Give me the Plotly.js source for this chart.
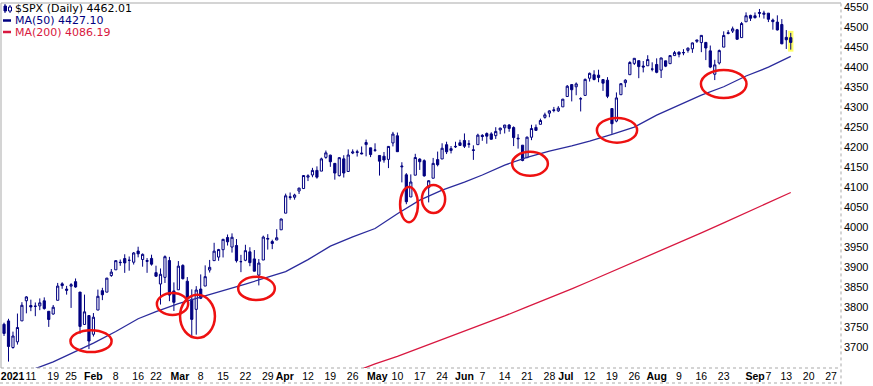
<!DOCTYPE html>
<html><head><meta charset="utf-8">
<script src="https://cdn.plot.ly/plotly-3.0.1.min.js"></script>
<style>html,body{margin:0;padding:0;background:#fff}#chart{width:873px;height:386px}</style>
</head><body><div id="chart"></div>
<script>
const dates = ['2020-12-31',
'2021-01-04','2021-01-05','2021-01-06','2021-01-07','2021-01-08','2021-01-11','2021-01-12','2021-01-13','2021-01-14','2021-01-15','2021-01-19','2021-01-20','2021-01-21','2021-01-22','2021-01-25','2021-01-26','2021-01-27','2021-01-28','2021-01-29',
'2021-02-01','2021-02-02','2021-02-03','2021-02-04','2021-02-05','2021-02-08','2021-02-09','2021-02-10','2021-02-11','2021-02-12','2021-02-16','2021-02-17','2021-02-18','2021-02-19','2021-02-22','2021-02-23','2021-02-24','2021-02-25','2021-02-26',
'2021-03-01','2021-03-02','2021-03-03','2021-03-04','2021-03-05','2021-03-08','2021-03-09','2021-03-10','2021-03-11','2021-03-12','2021-03-15','2021-03-16','2021-03-17','2021-03-18','2021-03-19','2021-03-22','2021-03-23','2021-03-24','2021-03-25','2021-03-26','2021-03-29','2021-03-30','2021-03-31',
'2021-04-01','2021-04-05','2021-04-06','2021-04-07','2021-04-08','2021-04-09','2021-04-12','2021-04-13','2021-04-14','2021-04-15','2021-04-16','2021-04-19','2021-04-20','2021-04-21','2021-04-22','2021-04-23','2021-04-26','2021-04-27','2021-04-28','2021-04-29','2021-04-30',
'2021-05-03','2021-05-04','2021-05-05','2021-05-06','2021-05-07','2021-05-10','2021-05-11','2021-05-12','2021-05-13','2021-05-14','2021-05-17','2021-05-18','2021-05-19','2021-05-20','2021-05-21','2021-05-24','2021-05-25','2021-05-26','2021-05-27','2021-05-28',
'2021-06-01','2021-06-02','2021-06-03','2021-06-04','2021-06-07','2021-06-08','2021-06-09','2021-06-10','2021-06-11','2021-06-14','2021-06-15','2021-06-16','2021-06-17','2021-06-18','2021-06-21','2021-06-22','2021-06-23','2021-06-24','2021-06-25','2021-06-28','2021-06-29','2021-06-30',
'2021-07-01','2021-07-02','2021-07-06','2021-07-07','2021-07-08','2021-07-09','2021-07-12','2021-07-13','2021-07-14','2021-07-15','2021-07-16','2021-07-19','2021-07-20','2021-07-21','2021-07-22','2021-07-23','2021-07-26','2021-07-27','2021-07-28','2021-07-29','2021-07-30',
'2021-08-02','2021-08-03','2021-08-04','2021-08-05','2021-08-06','2021-08-09','2021-08-10','2021-08-11','2021-08-12','2021-08-13','2021-08-16','2021-08-17','2021-08-18','2021-08-19','2021-08-20','2021-08-23','2021-08-24','2021-08-25','2021-08-26','2021-08-27','2021-08-30','2021-08-31',
'2021-09-01','2021-09-02','2021-09-03','2021-09-07','2021-09-08','2021-09-09','2021-09-10','2021-09-13','2021-09-14'];

const open = [3756.07,
3764.61,3698.02,3712.20,3764.71,3815.05,3803.14,3801.62,3802.23,3814.98,3788.73,3781.88,3816.22,3857.46,3844.24,3851.68,3862.96,3836.83,3755.75,3778.05,
3731.17,3791.84,3840.27,3836.66,3878.30,3892.59,3910.49,3920.78,3916.40,3911.65,3939.61,3918.50,3915.86,3921.16,3885.55,3857.07,3873.71,3915.80,3839.66,
3842.51,3903.64,3863.99,3818.53,3793.58,3844.39,3851.93,3891.99,3915.54,3924.52,3942.96,3973.59,3949.57,3953.50,3913.14,3916.48,3937.60,3919.93,3879.34,3917.12,3969.31,3963.34,3967.25,
3992.78,4034.44,4075.57,4074.29,4089.95,4096.11,4124.71,4130.10,4141.58,4139.76,4174.14,4179.80,4159.18,4128.42,4170.46,4138.78,4185.03,4188.25,4185.14,4206.14,4198.10,
4191.98,4179.04,4177.06,4169.14,4210.34,4228.29,4150.34,4130.55,4074.99,4129.58,4169.92,4165.94,4098.45,4121.97,4168.61,4170.16,4205.94,4191.59,4201.94,4210.77,
4216.52,4206.82,4191.43,4206.05,4229.34,4233.81,4232.99,4228.56,4242.90,4248.31,4255.28,4248.87,4220.37,4204.78,4173.40,4224.61,4249.27,4256.97,4274.45,4284.90,4293.21,4290.65,
4300.73,4326.60,4356.46,4351.01,4321.07,4329.38,4372.41,4381.07,4380.11,4369.02,4367.43,4296.40,4265.11,4331.13,4361.27,4381.20,4409.58,4416.38,4402.95,4403.59,4395.12,
4406.86,4392.74,4415.95,4408.86,4429.07,4437.77,4435.79,4442.18,4446.08,4464.84,4461.65,4462.12,4440.94,4382.44,4410.56,4450.29,4484.40,4490.45,4493.75,4474.10,4513.76,4529.75,
4528.80,4534.48,4532.42,4535.38,4518.09,4513.02,4506.92,4474.81,4474.00];

const high = [3760.20,
3769.99,3737.83,3783.04,3811.55,3826.69,3817.86,3810.78,3820.96,3823.60,3788.73,3804.53,3859.75,3861.45,3852.31,3859.23,3870.90,3836.83,3830.50,3778.05,
3784.32,3843.09,3847.51,3872.42,3894.56,3915.77,3918.35,3931.50,3925.99,3937.23,3950.43,3933.61,3921.98,3930.41,3902.92,3895.98,3928.65,3925.02,3861.08,
3914.50,3906.41,3874.47,3843.67,3851.69,3881.06,3903.76,3917.35,3960.27,3944.99,3970.08,3981.04,3983.87,3969.62,3930.12,3955.31,3949.13,3942.08,3919.54,3978.19,3981.83,3968.01,3994.41,
4020.63,4083.42,4086.23,4083.13,4098.19,4129.48,4131.76,4148.00,4151.69,4173.49,4191.31,4180.81,4159.18,4175.02,4179.57,4194.17,4194.19,4193.35,4201.53,4218.78,4198.10,
4209.39,4179.04,4187.72,4202.70,4238.04,4236.39,4162.04,4134.73,4131.58,4183.13,4171.92,4169.15,4116.93,4172.80,4188.72,4209.52,4213.42,4202.61,4213.38,4218.36,
4234.12,4217.37,4204.39,4233.45,4232.34,4236.74,4237.09,4249.74,4248.38,4255.59,4257.16,4251.89,4232.29,4204.78,4226.24,4255.84,4256.60,4271.28,4286.12,4292.14,4300.52,4302.43,
4320.66,4355.43,4356.46,4361.88,4324.81,4371.60,4386.68,4392.37,4393.68,4369.02,4375.09,4296.40,4336.84,4359.70,4369.87,4415.18,4422.73,4416.38,4415.47,4429.97,4412.25,
4422.18,4423.79,4416.17,4429.76,4440.82,4439.39,4445.21,4449.44,4461.77,4468.37,4480.26,4462.12,4454.32,4418.61,4444.35,4489.88,4492.81,4501.71,4495.90,4513.33,4537.36,4531.39,
4537.11,4545.85,4541.45,4535.38,4521.79,4529.90,4520.47,4492.99,4486.00];

const low = [3726.88,
3662.71,3695.07,3705.34,3764.71,3783.60,3789.02,3776.51,3791.50,3792.86,3749.62,3780.37,3816.22,3845.05,3830.41,3797.16,3847.78,3732.48,3755.75,3694.12,
3725.62,3791.84,3816.68,3836.66,3874.93,3892.59,3902.64,3884.94,3890.39,3905.78,3923.85,3900.43,3885.03,3903.07,3874.71,3805.59,3859.60,3814.04,3789.54,
3842.51,3868.57,3818.86,3723.34,3730.19,3819.25,3851.93,3885.73,3915.54,3915.21,3923.54,3953.44,3935.74,3910.86,3886.75,3914.16,3901.57,3888.62,3853.50,3917.12,3943.25,3944.35,3966.98,
3992.78,4034.44,4068.14,4068.31,4082.54,4095.51,4114.82,4124.43,4120.87,4139.76,4170.75,4150.47,4118.38,4126.35,4123.69,4138.78,4182.36,4176.22,4181.78,4176.81,4174.85,
4188.03,4128.59,4160.94,4147.33,4201.64,4188.13,4111.53,4056.88,4074.99,4129.58,4142.69,4125.99,4061.41,4121.97,4151.72,4170.16,4182.52,4184.11,4197.78,4203.57,
4197.59,4198.27,4167.93,4206.05,4215.66,4208.41,4218.74,4220.34,4232.25,4234.07,4238.35,4202.45,4196.05,4164.40,4173.40,4217.27,4241.43,4256.97,4271.16,4274.67,4287.04,4287.96,
4300.73,4326.60,4314.37,4329.79,4289.22,4329.38,4364.03,4366.92,4362.36,4340.70,4322.53,4233.13,4262.05,4331.13,4350.06,4381.20,4405.45,4372.51,4387.01,4403.59,4389.65,
4384.81,4373.00,4400.23,4408.86,4429.07,4424.74,4430.03,4436.42,4435.96,4460.82,4437.66,4417.83,4397.59,4367.73,4406.80,4450.29,4482.28,4485.66,4468.99,4474.10,4513.76,4515.80,
4522.02,4524.66,4521.65,4513.00,4493.95,4492.07,4457.66,4445.70,4444.00];

const close = [3733.27,
3700.65,3726.86,3748.14,3803.79,3824.68,3799.61,3801.19,3809.84,3795.54,3768.25,3798.91,3851.85,3853.07,3841.47,3855.36,3849.62,3750.77,3787.38,3714.24,
3773.86,3826.31,3830.17,3871.74,3886.83,3915.59,3911.23,3909.88,3916.38,3934.83,3932.59,3931.33,3913.97,3906.71,3876.50,3881.37,3925.43,3829.34,3811.15,
3901.82,3870.29,3819.72,3768.47,3841.94,3821.35,3875.44,3898.81,3939.34,3943.34,3968.94,3962.71,3974.12,3915.46,3913.10,3940.59,3910.52,3889.14,3909.52,3974.54,3971.09,3958.55,3972.89,
4019.87,4077.91,4073.94,4079.95,4097.17,4128.80,4127.99,4141.59,4124.66,4170.42,4185.47,4163.26,4134.94,4173.42,4134.98,4180.17,4187.62,4186.72,4183.18,4211.47,4181.17,
4192.66,4164.66,4167.59,4201.62,4232.60,4188.43,4152.10,4063.04,4112.50,4173.85,4163.29,4127.83,4115.68,4159.12,4155.86,4197.05,4188.13,4195.99,4200.88,4204.11,
4202.04,4208.12,4192.85,4229.89,4226.52,4227.26,4219.55,4239.18,4247.44,4255.15,4246.59,4223.70,4221.86,4166.45,4224.79,4246.44,4241.84,4266.49,4280.70,4290.61,4291.80,4297.50,
4319.94,4352.34,4343.54,4358.13,4320.82,4369.55,4384.63,4369.21,4374.30,4360.03,4327.16,4258.49,4323.06,4358.69,4367.48,4411.79,4422.30,4401.46,4400.64,4419.15,4395.26,
4387.16,4423.15,4402.66,4429.10,4436.52,4432.35,4436.75,4447.70,4460.83,4468.00,4479.71,4448.08,4400.27,4405.80,4441.67,4479.53,4486.23,4496.19,4470.00,4509.37,4528.79,4522.68,
4524.09,4536.95,4535.43,4520.03,4514.07,4493.28,4458.58,4468.73,4462.01];

const futureDates = ['2021-09-15','2021-09-16','2021-09-17','2021-09-20','2021-09-21','2021-09-22','2021-09-23','2021-09-24','2021-09-27','2021-09-28','2021-09-29'];
const holidays = ['2021-01-01','2021-01-18','2021-02-15','2021-04-02','2021-05-31','2021-07-05','2021-09-06'];

const tickDates = ['2021-01-04','2021-01-11','2021-01-19','2021-01-25','2021-02-01','2021-02-08','2021-02-16','2021-02-22','2021-03-01','2021-03-08','2021-03-15','2021-03-22','2021-03-29','2021-04-01','2021-04-12','2021-04-19','2021-04-26','2021-05-03','2021-05-10','2021-05-17','2021-05-24','2021-06-01','2021-06-07','2021-06-14','2021-06-21','2021-06-28','2021-07-01','2021-07-12','2021-07-19','2021-07-26','2021-08-02','2021-08-09','2021-08-16','2021-08-23','2021-09-01','2021-09-07','2021-09-13','2021-09-20','2021-09-27'];
const tickLabels = ['<b>2021</b>','11','19','25','<b>Feb</b>','8','16','22','<b>Mar</b>','8','15','22','29','<b>Apr</b>','12','19','26','<b>May</b>','10','17','24','<b>Jun</b>','7','14','21','28','<b>Jul</b>','12','19','26','<b>Aug</b>','9','16','23','<b>Sep</b>','7','13','20','27'];

const ma50Dates = ['2021-01-04','2021-01-11','2021-01-19','2021-01-25','2021-02-01','2021-02-08','2021-02-16','2021-02-22','2021-03-01','2021-03-08','2021-03-15','2021-03-22','2021-03-29','2021-04-05','2021-04-12','2021-04-19','2021-04-26','2021-05-03','2021-05-10','2021-05-17','2021-05-24','2021-06-01','2021-06-07','2021-06-14','2021-06-21','2021-06-28','2021-07-06','2021-07-12','2021-07-19','2021-07-26','2021-08-02','2021-08-09','2021-08-16','2021-08-23','2021-08-30','2021-09-07','2021-09-14'];
const ma50 = [3625,3641,3662,3683,3709,3738,3770,3788,3808,3824,3840,3857,3874,3888,3918,3952,3975,3996,4033,4067,4092,4112,4130,4155,4174,4190,4203,4215,4232,4250,4280,4304,4330,4351,4378,4400,4427.10];

const ma200Dates = ['2021-04-19','2021-04-26','2021-05-03','2021-05-10','2021-05-17','2021-05-24','2021-06-01','2021-06-07','2021-06-14','2021-06-21','2021-06-28','2021-07-06','2021-07-12','2021-07-19','2021-07-26','2021-08-02','2021-08-09','2021-08-16','2021-08-23','2021-08-30','2021-09-07','2021-09-14'];
const ma200 = [3614,3636,3657,3676,3697,3718,3740,3757,3777,3800,3822,3845,3864,3888,3912,3935,3960,3985,4010,4036,4061,4086.19];

const yTicks = [3700,3750,3800,3850,3900,3950,4000,4050,4100,4150,4200,4250,4300,4350,4400,4450,4500,4550];

// ---------- helpers ----------
const DAY = 864e5;
const allDates = dates.concat(futureDates);
function noonMs(d){const p=d.split('-').map(Number);return Date.UTC(p[0],p[1]-1,p[2],12);}
function fmt(ms){return new Date(ms).toISOString().slice(0,19).replace('T',' ');}
function noon(d){return fmt(noonMs(d));}
function at(f){let k=Math.round(f);k=Math.max(0,Math.min(allDates.length-1,k));return fmt(noonMs(allDates[k])+(f-k)*DAY);}
function posOf(d){return allDates.indexOf(d);}

// small label nudges (trading days) for bold period labels, as placed in the original
const monthNudge = {'2021-01-04':0.9,'2021-03-01':0.35,'2021-04-01':0.8,'2021-05-03':0.5,'2021-07-01':0.7};

const NAVY='#000080', MA50C='#2b2b9c', MA200C='#d81840', RING='#ee1111';
const W=873,H=386,M={l:1,r:32,t:3,b:18};
const PW=W-M.l-M.r, PH=H-M.t-M.b;
const px=x=>(x-M.l)/PW, py=y=>(H-M.b-y)/PH;

// red highlight rings (anchor day, offset in trading days, half-width in days, centre price, half-height)
const rings = [
 {day:'2021-01-29',off:0.46,rx:4.6,price:3714,ry:27.5},
 {day:'2021-02-25',off:0.69,rx:3.5,price:3807,ry:27.5},
 {day:'2021-03-05',off:0.28,rx:3.9,price:3776,ry:54},
 {day:'2021-03-24',off:0.48,rx:4.1,price:3846,ry:29},
 {day:'2021-05-12',off:0.60,rx:2.0,price:4056,ry:44},
 {day:'2021-05-20',off:0.08,rx:2.6,price:4070,ry:35},
 {day:'2021-06-21',off:0.67,rx:4.0,price:4158,ry:30},
 {day:'2021-07-20',off:0.13,rx:4.5,price:4242,ry:31},
 {day:'2021-08-23',off:0.00,rx:5.1,price:4358,ry:35}
];

const last = dates.length-1;
const lastPos = posOf(dates[last]);

const shapes = [];
shapes.push({type:'rect',layer:'below',xref:'x',yref:'y',x0:at(lastPos-0.6),x1:at(lastPos+0.6),y0:low[last]-5,y1:high[last]+5,fillcolor:'#ffff66',line:{width:0}});
rings.forEach(r=>{const c=posOf(r.day)+r.off;shapes.push({type:'circle',xref:'x',yref:'y',x0:at(c-r.rx),x1:at(c+r.rx),y0:r.price-r.ry,y1:r.price+r.ry,line:{color:RING,width:2.5},fillcolor:'rgba(0,0,0,0)'});});
const frame='#a9a9a9';
shapes.push({type:'line',xref:'paper',yref:'paper',x0:0,x1:1,y0:1,y1:1,line:{color:frame,width:1}});
shapes.push({type:'line',xref:'paper',yref:'paper',x0:0,x1:0,y0:0,y1:1,line:{color:frame,width:1}});
shapes.push({type:'line',xref:'paper',yref:'paper',x0:1,x1:1,y0:-0.045,y1:1,line:{color:frame,width:1,dash:'dot'}});
shapes.push({type:'line',xref:'paper',yref:'paper',x0:0,x1:1,y0:0,y1:0,line:{color:frame,width:1,dash:'dot'}});
shapes.push({type:'line',xref:'paper',yref:'paper',x0:px(0),x1:1,y0:py(383),y1:py(383),line:{color:frame,width:1,dash:'dot'}});
shapes.push({type:'line',xref:'paper',yref:'paper',x0:px(5),x1:px(5),y0:py(4),y1:py(13),line:{color:NAVY,width:1}});
shapes.push({type:'rect',xref:'paper',yref:'paper',x0:px(4),x1:px(6.5),y0:py(6),y1:py(11),fillcolor:NAVY,line:{color:NAVY,width:1}});
shapes.push({type:'line',xref:'paper',yref:'paper',x0:px(10),x1:px(10),y0:py(5),y1:py(13),line:{color:NAVY,width:1}});
shapes.push({type:'rect',xref:'paper',yref:'paper',x0:px(8.5),x1:px(11.5),y0:py(7),y1:py(11),fillcolor:'#ffffff',line:{color:NAVY,width:1}});
shapes.push({type:'line',xref:'paper',yref:'paper',x0:px(3),x1:px(11),y0:py(20.5),y1:py(20.5),line:{color:NAVY,width:2.5}});
shapes.push({type:'line',xref:'paper',yref:'paper',x0:px(3),x1:px(11),y0:py(32),y1:py(32),line:{color:MA200C,width:2.5}});

const lf={family:'DejaVu Sans, Verdana, sans-serif',size:11};
const annotations=[
 {xref:'paper',yref:'paper',x:px(13),y:py(8.5),xanchor:'left',yanchor:'middle',showarrow:false,text:'$SPX (Daily) '+close[last].toFixed(2),font:Object.assign({color:'#000000'},lf)},
 {xref:'paper',yref:'paper',x:px(13),y:py(20.7),xanchor:'left',yanchor:'middle',showarrow:false,text:'MA(50) '+ma50[ma50.length-1].toFixed(2),font:Object.assign({color:NAVY},lf)},
 {xref:'paper',yref:'paper',x:px(13),y:py(32.3),xanchor:'left',yanchor:'middle',showarrow:false,text:'MA(200) '+ma200[ma200.length-1].toFixed(2),font:Object.assign({color:MA200C},lf)}
];

const traces=[
 {type:'scatter',mode:'lines',x:ma200Dates.map(noon),y:ma200,line:{color:MA200C,width:1.3},hoverinfo:'skip',showlegend:false,name:'MA(200)'},
 {type:'scatter',mode:'lines',x:ma50Dates.map(noon),y:ma50,line:{color:MA50C,width:1.3},hoverinfo:'skip',showlegend:false,name:'MA(50)'},
 {type:'candlestick',x:dates.map(noon),open:open,high:high,low:low,close:close,name:'$SPX (Daily)',
  increasing:{line:{color:NAVY,width:1},fillcolor:'#ffffff'},
  decreasing:{line:{color:NAVY,width:1},fillcolor:NAVY},
  whiskerwidth:0,hoverinfo:'skip',showlegend:false}
];

const xf={family:'Liberation Sans, Arial, sans-serif',size:10.5,color:'#000000'};
const yf={family:'Liberation Sans, Arial, sans-serif',size:11,color:'#000000'};
const layout={
 width:W,height:H,margin:M,paper_bgcolor:'#ffffff',plot_bgcolor:'#ffffff',showlegend:false,
 xaxis:{type:'date',range:[at(-0.68),at(187.24)],
  rangebreaks:[{bounds:['sat','mon']},{values:holidays}],
  tickmode:'array',tickvals:tickDates.map(d=>at(posOf(d)+(monthNudge[d]||0))),ticktext:tickLabels,tickangle:0,
  ticklabeloverflow:'allow',
  ticks:'',showgrid:false,zeroline:false,showline:false,tickfont:xf,
  rangeslider:{visible:false},fixedrange:true},
 yaxis:{side:'right',range:[3646.7,4560.8],tickmode:'array',tickvals:yTicks,ticktext:yTicks.map(String),
  ticks:'',showgrid:false,zeroline:false,showline:false,tickfont:yf,ticklabelstandoff:2,fixedrange:true},
 shapes:shapes,annotations:annotations
};
Plotly.newPlot('chart',traces,layout,{staticPlot:true,displayModeBar:false});
</script></body></html>
